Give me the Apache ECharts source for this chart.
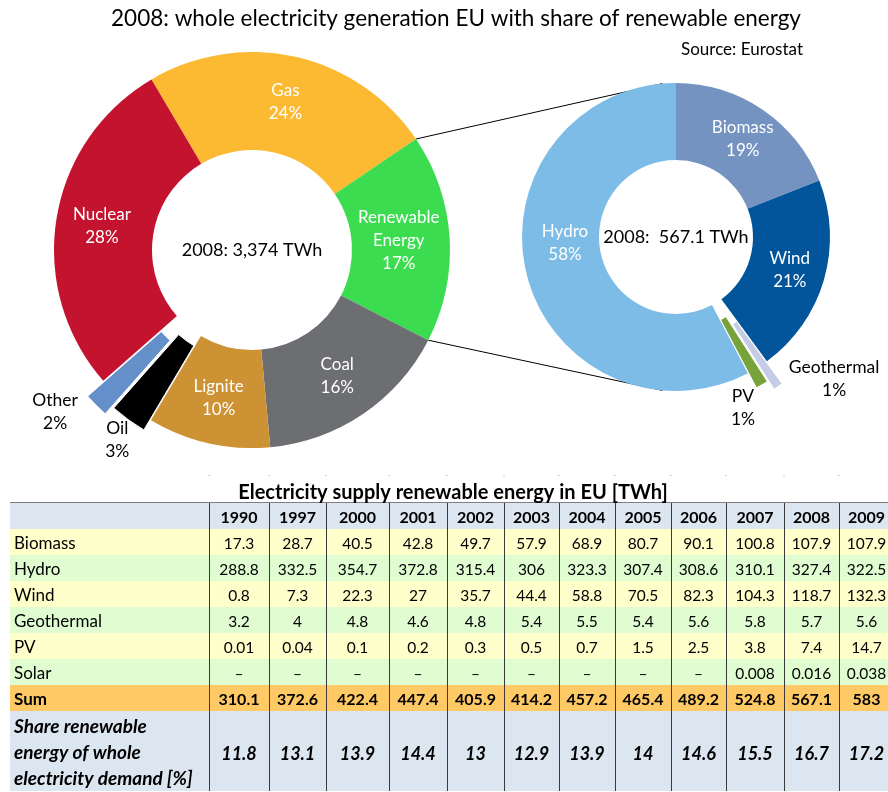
<!DOCTYPE html>
<html><head><meta charset="utf-8">
<script src="https://cdn.jsdelivr.net/npm/echarts@6/dist/echarts.min.js"></script>
<style>html,body{margin:0;padding:0;background:#fff}#c{width:888px;height:792px}</style>
</head><body><div id="c"></div>
<script>
// ---------- DATA ----------
const years = ['1990','1997','2000','2001','2002','2003','2004','2005','2006','2007','2008','2009'];
const biomass = [17.3,28.7,40.5,42.8,49.7,57.9,68.9,80.7,90.1,100.8,107.9,107.9];
const hydro = [288.8,332.5,354.7,372.8,315.4,306,323.3,307.4,308.6,310.1,327.4,322.5];
const wind = [0.8,7.3,22.3,27,35.7,44.4,58.8,70.5,82.3,104.3,118.7,132.3];
const geothermal = [3.2,4,4.8,4.6,4.8,5.4,5.5,5.4,5.6,5.8,5.7,5.6];
const pv = [0.01,0.04,0.1,0.2,0.3,0.5,0.7,1.5,2.5,3.8,7.4,14.7];
const solar = [null,null,null,null,null,null,null,null,null,0.008,0.016,0.038];
const sumRow = [310.1,372.6,422.4,447.4,405.9,414.2,457.2,465.4,489.2,524.8,567.1,583];
const shareRow = [11.8,13.1,13.9,14.4,13,12.9,13.9,14,14.6,15.5,16.7,17.2];

const genNames = ['Gas','Renewable Energy','Coal','Lignite','Oil','Other','Nuclear'];
const genShares = [24,17,16,10,3,2,28];
const genTotal = '3,374';

const mixYear = '2008';
const renewNames = ['Biomass','Wind','Geothermal','PV','Hydro'];

// ---------- STYLE / LAYOUT ----------
const FONT = 'Lato';
const genColors = ['#fcb932','#3cdc50','#6d6e72','#cd9234','#000000','#658fc8','#c4132f'];
const renewColors = ['#7593c0','#02559a','#c5cde6','#77a33a','#7dbce7'];
const yi = years.indexOf(mixYear);
const renewSrc = {Biomass: biomass, Wind: wind, Geothermal: geothermal, PV: pv, Hydro: hydro};
const renewValues = renewNames.map(n => renewSrc[n][yi]);

const L = {cx: 252, cy: 250, r0: 100, r: 198, start: 120.5, names: genNames, values: genShares, colors: genColors,
  explode: {Oil: 12, Other: 22}, shift: {Oil: [-11, 20], Other: [-41, 7]}, disp: {'Renewable Energy': 'Renewable\nEnergy'}, nudge: {'Renewable Energy': [-5, 0]}};
const R = {cx: 676, cy: 237, r0: 77, r: 154, start: 90, names: renewNames, values: renewValues, colors: renewColors,
  explode: {PV: 17, Geothermal: 27}, shift: {PV: [-19, 23], Geothermal: [56, -8]}, disp: {}, nudge: {Hydro: [4, -22]}};

function total(cfg) { return cfg.values.reduce((a, b) => a + b, 0); }
function cumBefore(cfg, i) { let acc = 0; for (let k = 0; k < i; k++) acc += cfg.values[k]; return acc; }
function midAngle(cfg, i) {
  return (cfg.start - (cumBefore(cfg, i) + cfg.values[i] / 2) / total(cfg) * 360) * Math.PI / 180;
}
function boundaryAngle(cfg, i) {
  return (cfg.start - cumBefore(cfg, i) / total(cfg) * 360) * Math.PI / 180;
}

function layer(cfg, target) {
  const offset = target ? cfg.explode[target] : 0;
  const shown = n => target ? n === target : !(n in cfg.explode);
  return {
    type: 'pie', center: [cfg.cx, cfg.cy], radius: [cfg.r0, cfg.r], startAngle: cfg.start, clockwise: true,
    avoidLabelOverlap: false, percentPrecision: 0, silent: true, animation: false,
    selectedMode: target ? 'multiple' : false, selectedOffset: offset,
    emphasis: {disabled: true},
    select: {itemStyle: {borderColor: '#fff', borderWidth: 1}},
    labelLine: {show: false},
    label: {
      position: 'inside', color: '#fff', fontFamily: FONT, fontSize: 17, lineHeight: 23,
      formatter: p => (cfg.disp[p.name] || p.name) + '\n' + p.percent + '%'
    },
    labelLayout: function (p) {
      const d = cfg.nudge[cfg.names[p.dataIndex]];
      return d ? {dx: d[0], dy: d[1]} : {};
    },
    data: cfg.names.map((n, i) => {
      const vis = shown(n);
      return {
        name: n, value: cfg.values[i], selected: !!target && vis,
        itemStyle: {color: vis ? cfg.colors[i] : 'rgba(0,0,0,0)', borderColor: '#fff', borderWidth: target && vis ? 1 : 0},
        label: {show: vis && !target}
      };
    })
  };
}

const graphics = [];
function txt(x, y, text, font, align, valign, fill, lh) {
  const st = {text: text, font: font, fill: fill || '#000', textAlign: align, align: align, textVerticalAlign: valign || 'middle', verticalAlign: valign || 'middle'};
  if (lh) st.lineHeight = lh;
  return {type: 'text', x: x, y: y, z: 10, style: st};
}

// ---------- outside labels of exploded slices ----------
[L, R].forEach(cfg => {
  Object.keys(cfg.explode).forEach(n => {
    const i = cfg.names.indexOf(n);
    const m = midAngle(cfg, i), rr = cfg.r + cfg.explode[n], d = cfg.shift[n];
    const pct = Math.round(cfg.values[i] / total(cfg) * 100);
    graphics.push(txt(cfg.cx + rr * Math.cos(m) + d[0], cfg.cy - rr * Math.sin(m) + d[1], n + '\n' + pct + '%', '17.5px ' + FONT, 'center', 'middle', '#000', 23));
  });
});

// ---------- connector lines ----------
const gi = genNames.indexOf('Renewable Energy');
const aTop = boundaryAngle(L, gi), aBot = boundaryAngle(L, gi + 1);
const rTopA = 95 * Math.PI / 180, rBotA = -95 * Math.PI / 180;
graphics.push({type: 'line', z: -1, shape: {x1: L.cx + L.r * Math.cos(aTop), y1: L.cy - L.r * Math.sin(aTop), x2: R.cx + R.r * Math.cos(rTopA), y2: R.cy - R.r * Math.sin(rTopA)}, style: {stroke: '#000', lineWidth: 1}});
graphics.push({type: 'line', z: -1, shape: {x1: L.cx + L.r * Math.cos(aBot), y1: L.cy - L.r * Math.sin(aBot), x2: R.cx + R.r * Math.cos(rBotA), y2: R.cy - R.r * Math.sin(rBotA)}, style: {stroke: '#000', lineWidth: 1}});

// titles
graphics.push(txt(456, 19, '2008: whole electricity generation EU with share of renewable energy', '22.5px ' + FONT, 'center'));
graphics.push(txt(803, 50, 'Source: Eurostat', '17px ' + FONT, 'right'));
graphics.push(txt(L.cx, L.cy, mixYear + ': ' + genTotal + ' TWh', '18px ' + FONT, 'center'));
graphics.push(txt(R.cx, R.cy, mixYear + ':  ' + sumRow[yi] + ' TWh', '18px ' + FONT, 'center'));

// ---------- table ----------
const tX = 10, firstColX = 209, colW = [60,57,63,58,57,55,56,56,55,58,55,55];
const colX = [firstColX];
colW.forEach((w, i) => colX.push(colX[i] + w));
const headY = 503, rowH = 26, shareH = 80;
const fmt = v => v == null ? '\u2013' : String(v);
const bodyRows = [['Biomass', biomass], ['Hydro', hydro], ['Wind', wind], ['Geothermal', geothermal], ['PV', pv], ['Solar', solar]];
const rowFills = ['#ffffcc', '#e0fdd2'];
const tableRight = 888;
const cx = i => (colX[i] + colX[i + 1]) / 2;

graphics.push(txt(453, 493, 'Electricity supply renewable energy in EU [TWh]', 'bold 20px ' + FONT, 'center'));
colX.slice(0, 12).forEach(x => graphics.push({type: 'line', shape: {x1: x - 1, y1: 475.5, x2: x + 1, y2: 475.5}, style: {stroke: '#cfcfcf', lineWidth: 1}}));
graphics.push({type: 'rect', shape: {x: tX, y: headY, width: tableRight - tX, height: rowH}, style: {fill: '#dce6f1'}});
years.forEach((y, i) => graphics.push(txt(cx(i), headY + rowH / 2 + 2, y, 'bold 16px ' + FONT, 'center')));
let y0 = headY + rowH;
bodyRows.forEach((row, r) => {
  graphics.push({type: 'rect', shape: {x: tX, y: y0, width: tableRight - tX, height: rowH}, style: {fill: rowFills[r % 2]}});
  graphics.push(txt(tX + 4, y0 + rowH / 2 + 2, row[0], '17px ' + FONT, 'left'));
  row[1].forEach((v, i) => graphics.push(txt(cx(i), y0 + rowH / 2 + 2, fmt(v), '15.5px ' + FONT, 'center')));
  y0 += rowH;
});
graphics.push({type: 'rect', shape: {x: tX, y: y0, width: tableRight - tX, height: rowH}, style: {fill: '#ffc966'}});
graphics.push(txt(tX + 4, y0 + rowH / 2 + 2, 'Sum', 'bold 17px ' + FONT, 'left'));
sumRow.forEach((v, i) => graphics.push(txt(cx(i), y0 + rowH / 2 + 2, fmt(v), 'bold 16px ' + FONT, 'center')));
y0 += rowH;
graphics.push({type: 'rect', shape: {x: tX, y: y0, width: tableRight - tX, height: shareH}, style: {fill: '#dce6f1'}});
['Share renewable', 'energy of whole', 'electricity demand [%]'].forEach((s, k) => graphics.push(txt(tX + 4, y0 + 16 + k * 26, s, 'italic bold 19px ' + FONT, 'left')));
shareRow.forEach((v, i) => graphics.push(txt(cx(i), y0 + 43, fmt(v), 'italic bold 18px ' + FONT, 'center')));
y0 += shareH;
graphics.push({type: 'line', shape: {x1: tX, y1: headY - 0.5, x2: tableRight, y2: headY - 0.5}, style: {stroke: '#7f7f7f', lineWidth: 1}});
colX.forEach(x => graphics.push({type: 'line', shape: {x1: x + 0.5, y1: headY, x2: x + 0.5, y2: y0}, style: {stroke: '#3a3a3a', lineWidth: 1}}));

const chart = echarts.init(document.getElementById('c'), null, {renderer: 'canvas'});
chart.setOption({
  animation: false,
  backgroundColor: '#fff',
  series: [layer(L), layer(L, 'Oil'), layer(L, 'Other'), layer(R), layer(R, 'PV'), layer(R, 'Geothermal')],
  graphic: {elements: graphics}
});
</script></body></html>
